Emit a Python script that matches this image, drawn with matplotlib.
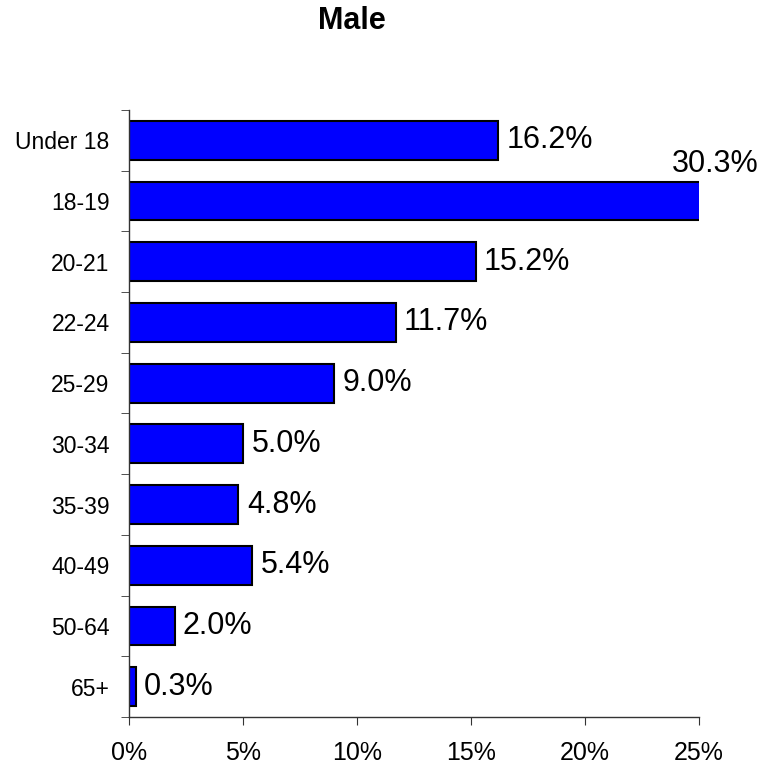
import matplotlib.pyplot as plt
from matplotlib.ticker import FixedLocator

plt.rcParams['font.family'] = ['Liberation Sans', 'DejaVu Sans']

# --- datos ---
grupos = ["Under 18", "18-19", "20-21", "22-24", "25-29",
          "30-34", "35-39", "40-49", "50-64", "65+"]
porcentajes = [16.2, 30.3, 15.2, 11.7, 9.0, 5.0, 4.8, 5.4, 2.0, 0.3]
ticks_x = [0, 5, 10, 15, 20, 25]
etiquetas_x = ["0%", "5%", "10%", "15%", "20%", "25%"]
x_max = 25

fig = plt.figure(figsize=(7.77, 7.69), dpi=100)
ax = fig.add_axes([129 / 777, 1 - 717 / 769, 570 / 777, 607 / 769])

pos_y = list(range(len(grupos)))
ax.barh(pos_y, porcentajes, height=0.64, color='#0000FF',
        edgecolor='black', linewidth=1.5)

ax.set_xlim(0, x_max)
ax.set_ylim(len(grupos) - 0.5, -0.5)

# etiquetas de valor
for y, v in zip(pos_y, porcentajes):
    texto = f"{v:.1f}%"
    if v > x_max:
        ax.annotate(texto, xy=(x_max, y - 0.32), xytext=(12, 2),
                    textcoords='offset points', ha='center', va='bottom',
                    fontsize=22, annotation_clip=False)
    else:
        ax.annotate(texto, xy=(v, y), xytext=(6, 0),
                    textcoords='offset points', ha='left', va='center',
                    fontsize=22)

# ejes
ax.set_yticks(pos_y)
ax.set_yticklabels(grupos, fontsize=16.5)
ax.tick_params(axis='y', which='major', length=0, pad=14)
ax.yaxis.set_minor_locator(FixedLocator([i - 0.5 for i in range(len(grupos) + 1)]))
ax.tick_params(axis='y', which='minor', length=6, direction='out',
               color='#333333')

ax.set_xticks(ticks_x)
ax.set_xticklabels(etiquetas_x, fontsize=18)
ax.tick_params(axis='x', length=6, direction='out', pad=11, color='#333333')

for lado in ['top', 'right']:
    ax.spines[lado].set_visible(False)
for lado in ['left', 'bottom']:
    ax.spines[lado].set_color('#333333')
    ax.spines[lado].set_linewidth(1.0)

fig.text(352 / 777, 1 - 21 / 769, "Male", ha='center', va='center',
         fontsize=22, fontweight='bold')

fig.savefig("out.png", dpi=100)
